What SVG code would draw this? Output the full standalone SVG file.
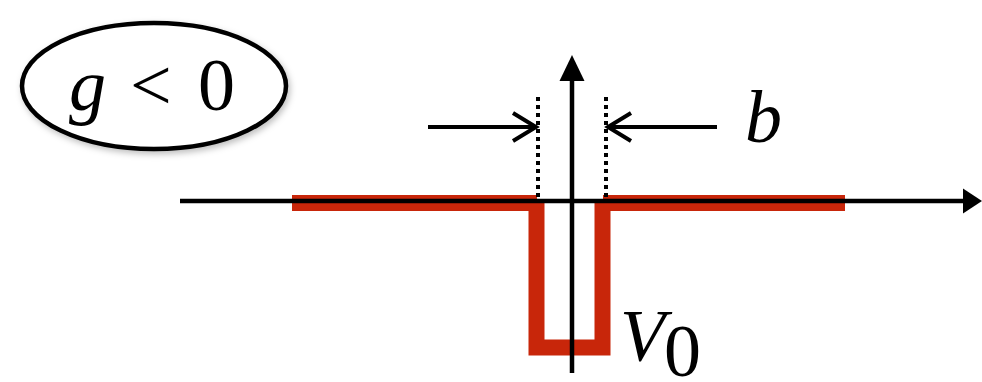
<svg xmlns="http://www.w3.org/2000/svg" width="982" height="382" viewBox="0 0 982 382">
<style>
.t{font-family:"Liberation Serif","Times New Roman",serif;font-size:74px;fill:#000}
.i{font-style:italic}
.ax{stroke:#000;stroke-width:4.5;fill:none}
.red{stroke:#c8260a;stroke-width:16;fill:none;stroke-linejoin:miter;stroke-linecap:butt}
.dot{stroke:#000;stroke-width:4;stroke-dasharray:4 4;fill:none}
.dim{stroke:#000;stroke-width:4;fill:none}
</style>
<defs>
<filter id="sh" x="-20%" y="-20%" width="140%" height="140%">
<feDropShadow dx="2" dy="3" stdDeviation="3" flood-color="#000" flood-opacity="0.25"/>
</filter>
</defs>
<g id="label-g">
<ellipse cx="154" cy="86" rx="132" ry="63" fill="#fff" stroke="#000" stroke-width="4.5" filter="url(#sh)"/>
<text class="t" y="110"><tspan class="i" x="69">g</tspan><tspan x="130">&lt;</tspan><tspan x="198">0</tspan></text>
</g>
<g id="potential">
<path class="red" d="M292 203 H537"/>
<path class="red" d="M536.5 203 V347.5 H602.5 V203"/>
<path class="red" d="M603 203 H845"/>
</g>
<g id="connectors">
<line class="ax" x1="180" y1="201" x2="965" y2="201"/>
<polygon points="963,188.5 982,201 963,213.5" fill="#000"/>
<line class="ax" x1="572" y1="373" x2="572" y2="78"/>
<polygon points="559.5,81 572,55 584.5,81" fill="#000"/>
<line class="dot" x1="538" y1="97" x2="538" y2="203"/>
<line class="dot" x1="606" y1="97" x2="606" y2="203"/>
<line class="dim" x1="428" y1="127" x2="536" y2="127"/>
<polyline class="dim" points="513,113 536,127 513,141"/>
<line class="dim" x1="717" y1="127" x2="608" y2="127"/>
<polyline class="dim" points="631,113 608,127 631,141"/>
</g>
<g id="label-b">
<text class="t i" x="745" y="142">b</text>
</g>
<g id="label-V0">
<text class="t" y="361"><tspan class="i" x="620">V</tspan></text>
<text class="t" x="664" y="376" font-size="53">0</text>
</g>
</svg>
